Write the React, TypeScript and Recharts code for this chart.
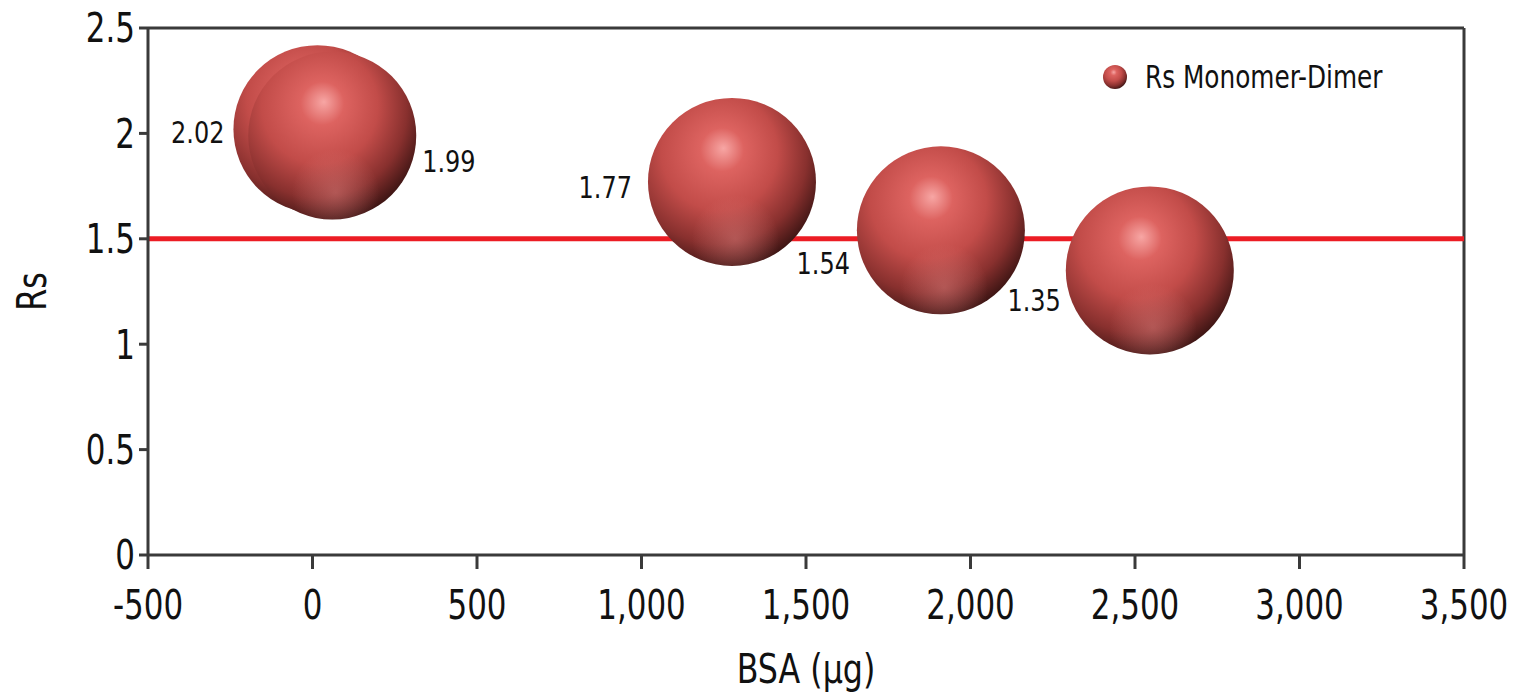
import { Legend, ReferenceLine, Scatter, ScatterChart, XAxis, YAxis, ZAxis } from 'recharts';

const bsa = [15, 60, 1275, 1910, 2545];
const rs = [2.02, 1.99, 1.77, 1.54, 1.35];
const xTicks = [-500, 0, 500, 1000, 1500, 2000, 2500, 3000, 3500];
const yTicks = [0, 0.5, 1, 1.5, 2, 2.5];
const threshold = 1.5;
const seriesName = 'Rs Monomer-Dimer';

// where each value label sits, relative to its bubble centre
const labelSpots = [
  { dx: -93, dy: 3, anchor: 'end' },
  { dx: 90, dy: 25, anchor: 'start' },
  { dx: -100, dy: 5, anchor: 'end' },
  { dx: -91, dy: 32, anchor: 'end' },
  { dx: -89, dy: 29, anchor: 'end' },
];

const FONT = "'DejaVu Sans Condensed', 'Liberation Sans Narrow', sans-serif";
const SQUEEZE = 0.86; // reference font is narrower than anything installed
const AXIS = '#3a3a3a';
const BUBBLE_R = 84;

const rows = bsa.map((x, i) => ({ x, y: rs[i], z: 1, i }));

function Narrow({ x, y, anchor, size, rotate = 0, dy, children }: any) {
  return (
    <g transform={`translate(${x},${y}) rotate(${rotate}) scale(${SQUEEZE},1)`}>
      <text x={0} y={0} dy={dy} textAnchor={anchor} fontSize={size} fill="#111">
        {children}
      </text>
    </g>
  );
}

const XTick = (p: any) => (
  <Narrow x={p.x} y={p.y} anchor="middle" size={40} dy="0.71em">
    {Number(p.payload.value).toLocaleString('en-US')}
  </Narrow>
);

const YTick = (p: any) => (
  <Narrow x={p.x} y={p.y} anchor="end" size={40} dy="0.36em">
    {String(p.payload.value)}
  </Narrow>
);

function SphereDefs({ id }: { id: string }) {
  return (
    <defs>
      <radialGradient id={id} cx="0.4" cy="0.35" r="0.72" fx="0.45" fy="0.3">
        <stop offset="0%" stopColor="#f7a6a4" />
        <stop offset="18%" stopColor="#dd6360" />
        <stop offset="48%" stopColor="#c24c49" />
        <stop offset="74%" stopColor="#88302e" />
        <stop offset="100%" stopColor="#2a0e0d" />
      </radialGradient>
      <radialGradient id={`${id}-rim`} cx="0.52" cy="0.84" r="0.26">
        <stop offset="0%" stopColor="#e98e8c" stopOpacity={0.4} />
        <stop offset="100%" stopColor="#e98e8c" stopOpacity={0} />
      </radialGradient>
    </defs>
  );
}

function Sphere(props: any) {
  const { cx, cy, payload } = props;
  const r = props.width ? props.width / 2 : Math.sqrt((props.size || 0) / Math.PI);
  const id = `sphere-${payload.i}`;
  return (
    <g>
      <SphereDefs id={id} />
      <circle cx={cx} cy={cy} r={r} fill={`url(#${id})`} />
      <circle cx={cx} cy={cy} r={r} fill={`url(#${id}-rim)`} />
    </g>
  );
}

function ValueLabel(props: any) {
  const { cx, cy, payload } = props;
  const s = labelSpots[payload.i];
  return (
    <Narrow x={cx + s.dx} y={cy + s.dy} anchor={s.anchor} size={31} dy="0.36em">
      {payload.y.toFixed(2)}
    </Narrow>
  );
}

function LegendBox() {
  return (
    <div style={{ display: 'flex', alignItems: 'center', color: '#111', fontSize: 32 }}>
      <svg width={28} height={28} style={{ marginRight: 16 }}>
        <SphereDefs id="sphere-legend" />
        <circle cx={14} cy={14} r={12} fill="url(#sphere-legend)" />
      </svg>
      <span style={{ display: 'inline-block', transform: `scaleX(${SQUEEZE})`, transformOrigin: 'left center' }}>
        {seriesName}
      </span>
    </div>
  );
}

export default function App() {
  return (
    <div style={{ position: 'absolute', left: 0, top: 0, fontFamily: FONT, background: '#fff' }}>
      <ScatterChart width={1521} height={698} margin={{ top: 28, right: 57, left: 0, bottom: 0 }}>
        <XAxis
          type="number"
          dataKey="x"
          domain={[-500, 3500]}
          ticks={xTicks}
          height={143}
          tickSize={14}
          tickMargin={22}
          stroke={AXIS}
          strokeWidth={3}
          tick={XTick}
          label={{
            content: (p: any) => {
              const vb = p.viewBox;
              return (
                <Narrow x={vb.x + vb.width / 2} y={vb.y + vb.height - 15} anchor="middle" size={41}>
                  BSA (µg)
                </Narrow>
              );
            },
          }}
        />
        <YAxis
          type="number"
          dataKey="y"
          domain={[0, 2.5]}
          ticks={yTicks}
          width={148}
          tickSize={9}
          tickMargin={4}
          stroke={AXIS}
          strokeWidth={3}
          tick={YTick}
          label={{
            content: (p: any) => {
              const vb = p.viewBox;
              return (
                <Narrow x={vb.x + 31} y={vb.y + vb.height / 2} rotate={-90} anchor="middle" size={41} dy="0.36em">
                  Rs
                </Narrow>
              );
            },
          }}
        />
        <ZAxis type="number" dataKey="z" range={[Math.PI * BUBBLE_R * BUBBLE_R, Math.PI * BUBBLE_R * BUBBLE_R]} />
        <ReferenceLine y={2.5} stroke={AXIS} strokeWidth={3} />
        <ReferenceLine x={3500} stroke={AXIS} strokeWidth={3} />
        <Scatter name={seriesName} data={rows} shape={<Sphere />} isAnimationActive={false} />
        <ReferenceLine y={threshold} stroke="#ec1c24" strokeWidth={5} />
        <Scatter data={rows} shape={<ValueLabel />} legendType="none" isAnimationActive={false} />
        <Legend
          verticalAlign="middle"
          align="center"
          wrapperStyle={{ position: 'absolute', top: 58, left: 1101, width: 'auto', height: 'auto' }}
          content={() => <LegendBox />}
        />
      </ScatterChart>
    </div>
  );
}
